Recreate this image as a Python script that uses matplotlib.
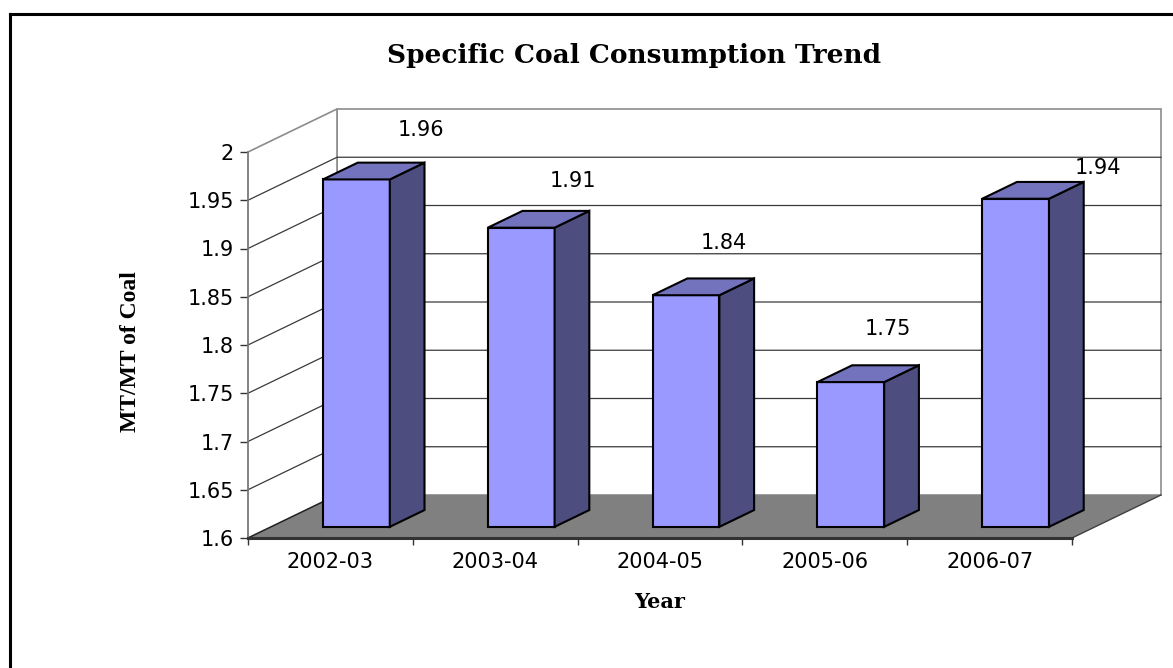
import numpy as np
import matplotlib
matplotlib.use("Agg")
import matplotlib.pyplot as plt
from matplotlib.patches import Polygon
from matplotlib.lines import Line2D
from matplotlib.transforms import IdentityTransform

years  = ['2002-03', '2003-04', '2004-05', '2005-06', '2006-07']
values = [1.96, 1.91, 1.84, 1.75, 1.94]
yticks = [1.6, 1.65, 1.7, 1.75, 1.8, 1.85, 1.9, 1.95, 2.0]
ymin, ymax = 1.6, 2.0

# nudges for the value labels (pixels, from the top of each bar)
label_nudge = [(91, 61), (78, 58), (64, 63), (63, 64), (108, 42)]

front_c = '#9999FF'
side_c  = '#4D4D80'
top_c   = '#7373BD'
floor_c = '#808080'

DX, DY = 89, 43          # depth offset of the back wall in pixels
bar_x  = (0.315, 0.72)   # bar front face, fraction of category
bar_d  = (0.26, 0.65)    # bar front / back depth

W, H = 1173, 668
fig = plt.figure(figsize=(W / 100, H / 100), dpi=100)
ax = fig.add_axes([248 / W, (H - 538) / H, 824 / W, 386 / H])
ax.set_xlim(0, len(years))
ax.set_ylim(ymin, ymax)
ax.set_autoscale_on(False)
ax.patch.set_visible(False)

ident = IdentityTransform()


def P(x, v, d):
    px = ax.transData.transform((x, v))
    return (px[0] + d * DX, px[1] + d * DY)


def face(pts, color, z, ec='black', lw=1.5):
    ax.add_patch(Polygon(pts, closed=True, fc=color, ec=ec, lw=lw,
                         transform=ident, clip_on=False, zorder=z,
                         joinstyle='miter'))


def seg(pts, color, lw, z):
    xs, ys = zip(*pts)
    ax.add_line(Line2D(xs, ys, color=color, lw=lw, transform=ident,
                       clip_on=False, zorder=z))


n = len(years)
# back wall and side wall
face([P(0, ymin, 1), P(n, ymin, 1), P(n, ymax, 1), P(0, ymax, 1)], 'white', 0.5, ec='#8c8c8c', lw=1.2)
face([P(0, ymin, 0), P(0, ymin, 1), P(0, ymax, 1), P(0, ymax, 0)], 'white', 0.5, ec='#8c8c8c', lw=1.2)

# gridlines
for v in yticks[1:-1]:
    seg([P(0, v, 0), P(0, v, 1), P(n, v, 1)], '#3a3a3a', 0.9, 1)

# floor
face([P(0, ymin, 0), P(n, ymin, 0), P(n, ymin, 1), P(0, ymin, 1)], floor_c, 2, ec='none', lw=0)
seg([P(n, ymin, 0), P(n, ymin, 1)], '#404040', 1.0, 2.1)
seg([P(0, ymin, 0), P(0, ymin, 1)], '#202020', 1.0, 2.1)

# bars
for i, v in enumerate(values):
    x0, x1 = i + bar_x[0], i + bar_x[1]
    d0, d1 = bar_d
    face([P(x0, ymin, d0), P(x1, ymin, d0), P(x1, v, d0), P(x0, v, d0)], front_c, 3)
    face([P(x1, ymin, d0), P(x1, ymin, d1), P(x1, v, d1), P(x1, v, d0)], side_c, 3)
    face([P(x0, v, d0), P(x1, v, d0), P(x1, v, d1), P(x0, v, d1)], top_c, 3)
    ax.annotate(f'{v:.2f}', xy=(i + 0.5, v), xytext=label_nudge[i],
                textcoords='offset pixels', ha='center', va='center',
                fontsize=15, family='DejaVu Sans', zorder=5,
                annotation_clip=False)

# axes
for s in ['top', 'right']:
    ax.spines[s].set_visible(False)
ax.spines['left'].set_color('#808080')
ax.spines['left'].set_linewidth(1.2)
ax.spines['bottom'].set_color('#333333')
ax.spines['bottom'].set_linewidth(2.2)
ax.spines['bottom'].set_zorder(4)

ax.set_yticks(yticks)
ax.set_yticklabels([f'{t:g}' for t in yticks])
ax.set_xticks(np.arange(n + 1))
ax.set_xticklabels([])
ax.set_xticks(np.arange(n) + 0.5, minor=True)
ax.set_xticklabels(years, minor=True)
ax.tick_params(axis='y', length=6, width=1, color='#333333', pad=4, labelsize=15)
ax.tick_params(axis='x', which='major', length=5, width=1, color='#333333')
ax.tick_params(axis='x', which='minor', length=0, pad=10, labelsize=15)
for lab in ax.get_yticklabels() + ax.get_xticklabels(minor=True):
    lab.set_family('DejaVu Sans')

ax.set_xlabel('Year', family='DejaVu Serif', fontweight='bold', fontsize=15, va='center')
ax.xaxis.set_label_coords(0.5, -0.166)
ax.set_ylabel('MT/MT of Coal', family='Liberation Serif', fontweight='bold', fontsize=17, va='center')
ax.yaxis.set_label_coords(-0.143, 0.484)

fig.text(634 / W, 1 - 55 / H, 'Specific Coal Consumption Trend', ha='center', va='center',
         family='DejaVu Serif', fontweight='bold', fontsize=19)

# outer frame (only top and left sides are visible)
fig.add_artist(Line2D([10 / W, 1.0], [1 - 14 / H, 1 - 14 / H], transform=fig.transFigure,
                      color='black', lw=2.2))
fig.add_artist(Line2D([10 / W, 10 / W], [0.0, 1 - 14 / H], transform=fig.transFigure,
                      color='black', lw=2.2))

fig.savefig('out.png', dpi=100)
